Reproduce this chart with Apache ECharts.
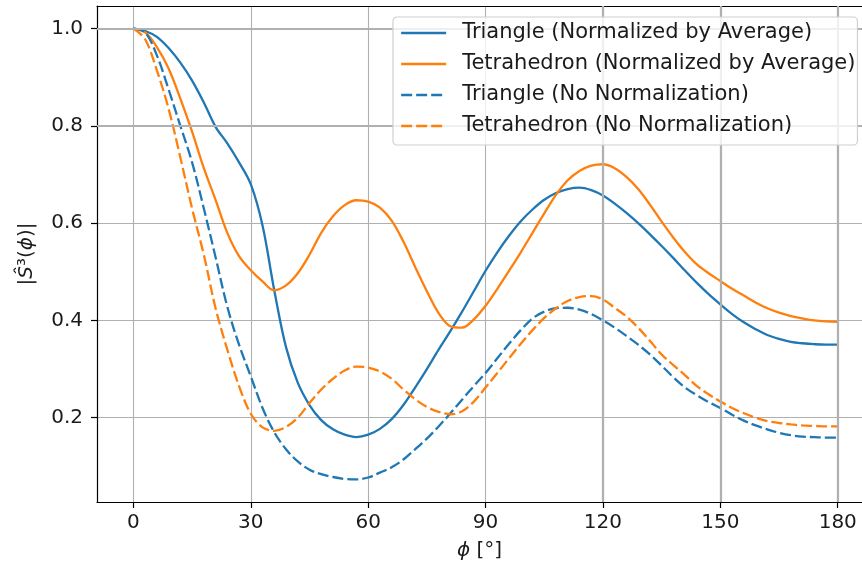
<!DOCTYPE html>
<html>
<head>
<meta charset="utf-8">
<script src="https://cdn.jsdelivr.net/npm/echarts@6/dist/echarts.min.js"></script>
<style>html,body{margin:0;padding:0;background:#fff}#c{width:862px;height:569px}</style>
</head>
<body>
<div id="c"></div>
<script>
// Angle samples (degrees)
const phi = [0,3,6,9,12,15,18,21,24,27,30,33,36,39,42,45,48,51,54,57,60,63,66,69,72,75,78,81,84,87,90,93,96,99,102,105,108,111,114,117,120,123,126,129,132,135,138,141,144,147,150,153,156,159,162,165,168,171,174,177,180];
const triangleNorm = [1.000,0.995,0.983,0.960,0.930,0.893,0.848,0.798,0.764,0.725,0.680,0.595,0.462,0.345,0.272,0.226,0.195,0.176,0.165,0.160,0.165,0.177,0.197,0.226,0.262,0.300,0.340,0.378,0.418,0.460,0.502,0.540,0.574,0.604,0.628,0.648,0.662,0.670,0.673,0.668,0.657,0.640,0.621,0.600,0.577,0.553,0.528,0.502,0.477,0.454,0.433,0.413,0.396,0.382,0.370,0.362,0.356,0.353,0.351,0.350,0.350];
const tetraNorm = [1.000,0.992,0.962,0.918,0.856,0.788,0.713,0.648,0.580,0.532,0.503,0.480,0.462,0.472,0.497,0.535,0.580,0.614,0.637,0.647,0.644,0.632,0.605,0.562,0.510,0.460,0.415,0.388,0.385,0.402,0.430,0.465,0.502,0.540,0.580,0.620,0.658,0.688,0.707,0.718,0.721,0.713,0.695,0.670,0.638,0.603,0.570,0.540,0.515,0.497,0.481,0.465,0.451,0.437,0.425,0.416,0.409,0.404,0.400,0.398,0.397];
const triangleRaw = [1.000,0.992,0.945,0.875,0.800,0.725,0.630,0.530,0.428,0.350,0.285,0.220,0.170,0.135,0.110,0.093,0.084,0.078,0.074,0.073,0.077,0.087,0.098,0.114,0.135,0.157,0.182,0.209,0.237,0.265,0.292,0.322,0.352,0.380,0.404,0.418,0.425,0.426,0.422,0.413,0.400,0.385,0.368,0.350,0.330,0.307,0.283,0.262,0.246,0.232,0.220,0.206,0.194,0.184,0.176,0.169,0.164,0.161,0.160,0.159,0.159];
const tetraRaw = [1.000,0.978,0.914,0.835,0.735,0.630,0.535,0.425,0.340,0.265,0.208,0.180,0.173,0.181,0.200,0.230,0.258,0.280,0.297,0.305,0.303,0.295,0.280,0.258,0.238,0.222,0.212,0.207,0.213,0.233,0.262,0.292,0.322,0.352,0.380,0.405,0.425,0.440,0.448,0.450,0.443,0.426,0.408,0.385,0.358,0.330,0.308,0.287,0.265,0.248,0.233,0.220,0.209,0.200,0.193,0.189,0.186,0.184,0.183,0.182,0.182];
const xTicks = [0,30,60,90,120,150,180];
const yTicks = [0.2,0.4,0.6,0.8,1.0];
const seriesNames = ['Triangle (Normalized by Average)','Tetrahedron (Normalized by Average)','Triangle (No Normalization)','Tetrahedron (No Normalization)'];
const boldGridX = [120,150,180];
const boldGridY = [0.8,1.0];

const FONT = 'DejaVu Sans';
const BLUE = '#1f77b4', ORANGE = '#ff7f0e';
const XMIN = -9.3, XMAX = 186.2;
const zip = ys => phi.map((x,i)=>[x, ys[i]]);
const mk = (name, ys, color, dashed) => ({
  name, type:'line', data: zip(ys), showSymbol:false, symbol:'none', smooth:0.35,
  lineStyle:{color, width:2.3, type: dashed ? [11,4] : 'solid', cap:'butt'},
  itemStyle:{color}, z:3
});

const chart = echarts.init(document.getElementById('c'), null, {renderer:'canvas'});
chart.setOption({
  animation:false,
  backgroundColor:'#fff',
  grid:{left:97, top:6, right:0, bottom:67, show:false},
  xAxis:[{
    type:'value', min:XMIN, max:XMAX,
    name:'{i|ϕ} [°]', nameLocation:'middle', nameGap:39,
    nameTextStyle:{fontFamily:FONT, fontSize:20, color:'#1a1a1a',
      rich:{i:{fontFamily:FONT, fontSize:20, fontStyle:'italic', color:'#1a1a1a'}}},
    axisLine:{show:true, onZero:false, lineStyle:{color:'#000', width:1.2}},
    axisTick:{show:true, length:6, lineStyle:{color:'#000', width:1.2}, customValues:xTicks},
    axisLabel:{fontFamily:FONT, fontSize:20, color:'#1a1a1a', margin:11, customValues:xTicks},
    splitLine:{show:true, lineStyle:{color:'#b0b0b0', width:1.1}}
  },{
    type:'value', min:XMIN, max:XMAX, position:'top',
    axisLine:{show:true, onZero:false, lineStyle:{color:'#000', width:1.2}},
    axisTick:{show:false}, axisLabel:{show:false}, splitLine:{show:false}
  }],
  yAxis:{
    type:'value', min:0.0266, max:1.0464,
    name:'|{i|Ŝ}³({i|ϕ})|', nameLocation:'middle', nameGap:60, nameRotate:90,
    nameTextStyle:{fontFamily:FONT, fontSize:20, color:'#1a1a1a',
      rich:{i:{fontFamily:FONT, fontSize:20, fontStyle:'italic', color:'#1a1a1a'}}},
    axisLine:{show:true, onZero:false, lineStyle:{color:'#000', width:1.2}},
    axisTick:{show:true, length:6, lineStyle:{color:'#000', width:1.2}, customValues:yTicks},
    axisLabel:{fontFamily:FONT, fontSize:20, color:'#1a1a1a', margin:14, customValues:yTicks, formatter:v=>v.toFixed(1)},
    splitLine:{show:true, lineStyle:{color:'#b0b0b0', width:1.1}}
  },
  legend:{
    data:seriesNames, orient:'vertical', left:393, top:17,
    itemWidth:45, itemHeight:14, itemGap:7,
    padding:[4,2,7,7],
    itemStyle:{opacity:0},
    lineStyle:{width:2.3},
    backgroundColor:'rgba(255,255,255,0.8)', borderColor:'#d0d0d0', borderWidth:1.2, borderRadius:4,
    textStyle:{fontFamily:FONT, fontSize:21, color:'#1a1a1a', lineHeight:24, padding:[0,0,0,11]},
    z:10
  },
  series:[
    {type:'line', name:'_grid', data:[], silent:true, z:1,
     markLine:{silent:true, symbol:'none', label:{show:false}, animation:false,
       lineStyle:{color:'#b0b0b0', width:2.2, type:'solid'},
       data:[...boldGridX.map(v=>({xAxis:v})), ...boldGridY.map(v=>({yAxis:v}))]}},
    mk(seriesNames[0], triangleNorm, BLUE, false),
    mk(seriesNames[1], tetraNorm, ORANGE, false),
    mk(seriesNames[2], triangleRaw, BLUE, true),
    mk(seriesNames[3], tetraRaw, ORANGE, true)
  ]
});
</script>
</body>
</html>
